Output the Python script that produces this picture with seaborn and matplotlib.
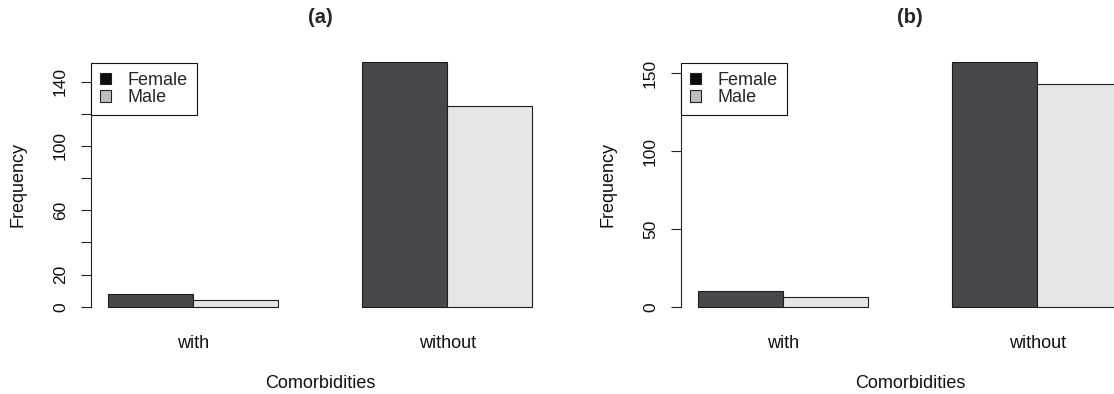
import matplotlib
matplotlib.use("Agg")
import matplotlib.pyplot as plt
from matplotlib.patches import Patch
import numpy as np
import pandas as pd
import seaborn as sns

# ---- data ----
categories = ["with", "without"]
sexes = ["Female", "Male"]
freq_a_female = [8, 152]
freq_a_male = [4, 125]
freq_b_female = [10, 157]
freq_b_male = [6, 143]
yticks_a = [0, 20, 40, 60, 80, 100, 120, 140]
ylabels_a = ["0", "20", "", "60", "", "100", "", "140"]
yticks_b = [0, 50, 100, 150]
ylabels_b = ["0", "50", "100", "150"]
titles = ["(a)", "(b)"]

bar_colors = {"Female": "#46474b", "Male": "#e6e5e3"}
legend_colors = {"Female": "#0c0c0c", "Male": "#bebebe"}

sns.set_theme(style="white")
plt.rcParams["font.family"] = ["Liberation Sans", "DejaVu Sans"]
FS = 13

W, H = 1114, 394
fig = plt.figure(figsize=(W / 100, H / 100), dpi=100)
fig.patch.set_facecolor("white")

# plot regions in pixels (left, top, right, bottom)
regions = [(90.7, 52.6, 549.3, 316.5), (680.7, 52.6, 1139.3, 316.5)]
panels = [
    (freq_a_female, freq_a_male, yticks_a, ylabels_a, titles[0]),
    (freq_b_female, freq_b_male, yticks_b, ylabels_b, titles[1]),
]

for (l, t, r, b), (fem, mal, yt, yl, title) in zip(regions, panels):
    ax = fig.add_axes([l / W, (H - b) / H, (r - l) / W, (b - t) / H])
    ax.set_facecolor("white")
    df = pd.DataFrame({
        "Comorbidities": categories * 2,
        "Sex": ["Female"] * len(categories) + ["Male"] * len(categories),
        "Frequency": list(fem) + list(mal),
    })
    sns.barplot(data=df, x="Comorbidities", y="Frequency", hue="Sex",
                order=categories, hue_order=sexes, palette=bar_colors,
                width=2 / 3, saturation=1, edgecolor="#1e1e1e", linewidth=0.8,
                errorbar=None, legend=False, ax=ax)
    ymax = max(max(fem), max(mal))
    ax.set_ylim(-0.04 * ymax, 1.04 * ymax)
    ax.set_xlim(-0.4, 1.4)
    for s in ["top", "right", "bottom"]:
        ax.spines[s].set_visible(False)
    ax.spines["left"].set_bounds(yt[0], yt[-1])
    ax.spines["left"].set_color("#222222")
    ax.spines["left"].set_linewidth(0.8)
    ax.set_yticks(yt)
    ax.set_yticklabels(yl, rotation=90, va="center", ha="center")
    ax.tick_params(axis="y", length=7, width=0.8, color="#222222", pad=14.8,
                   labelsize=12.5, left=True, labelcolor="#111111")
    ax.tick_params(axis="x", length=0, pad=13.5, labelsize=FS, labelcolor="#111111")
    ax.set_xlabel("Comorbidities", fontsize=FS, color="#111111")
    ax.xaxis.set_label_coords(0.5, -0.222)
    ax.set_ylabel("Frequency", fontsize=FS, color="#111111")
    ax.yaxis.set_label_coords(-0.139, 0.5)
    ax.set_title(title, fontweight="bold", fontsize=14.5, pad=21)
    handles = [Patch(facecolor=legend_colors[s], edgecolor="#222222", linewidth=0.8, label=s)
               for s in sexes]
    leg = ax.legend(handles=handles, loc="upper left", bbox_to_anchor=(0.0, 0.961),
                    frameon=True, fancybox=False, framealpha=1, edgecolor="#111111",
                    borderaxespad=0, handlelength=0.6, handleheight=0.6,
                    handletextpad=0.95, borderpad=0.5, labelspacing=0.02,
                    fontsize=FS)
    leg.get_frame().set_linewidth(0.8)

fig.savefig("out.png", dpi=100, facecolor="white")
